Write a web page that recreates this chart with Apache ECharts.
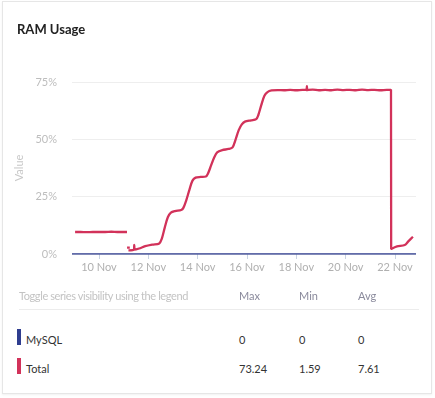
<!DOCTYPE html>
<html>
<head>
<meta charset="utf-8">
<script src="https://cdn.jsdelivr.net/npm/echarts@6/dist/echarts.min.js"></script>
<style>
  body { margin: 0; background: #fff; font-family: Lato, sans-serif; }
  #card { position: absolute; left: 2px; top: 1px; width: 428px; height: 391px; border: 1px solid #e6e6e6; box-shadow: 0 1px 2px rgba(0,0,0,0.06); background: #fff; }
  #main { position: absolute; left: 0; top: 0; width: 435px; height: 290px; }
  .t { position: absolute; font-size: 11px; line-height: 14px; white-space: nowrap; }
  .bar { position: absolute; width: 4px; height: 16px; }
</style>
</head>
<body>
<div id="card"></div>
<div id="main"></div>
<div id="table"></div>
<script>
// series values: [time, value]
var totalData = [
  ['2023-11-09 00:45', 9.6], ['2023-11-09 06:00', 9.6], ['2023-11-09 12:00', 9.5], ['2023-11-09 18:00', 9.6],
  ['2023-11-10 00:00', 9.6], ['2023-11-10 06:00', 9.6], ['2023-11-10 12:00', 9.7], ['2023-11-10 18:00', 9.6],
  ['2023-11-11 00:00', 9.6], ['2023-11-11 03:15', 9.6], ['2023-11-11 03:20', null],
  ['2023-11-11 03:20', 2.8], ['2023-11-11 06:00', 2.8], ['2023-11-11 06:10', null],
  ['2023-11-11 04:40', 1.59], ['2023-11-11 10:00', 1.9], ['2023-11-11 10:20', 4.0], ['2023-11-11 10:40', 1.9],
  ['2023-11-11 15:00', 2.4], ['2023-11-11 21:00', 3.4], ['2023-11-12 04:00', 4.1], ['2023-11-12 10:40', 4.6],
  ['2023-11-12 13:00', 6.5], ['2023-11-12 16:00', 11.5], ['2023-11-12 19:00', 16], ['2023-11-12 22:00', 18],
  ['2023-11-13 02:00', 18.7], ['2023-11-13 08:00', 19.2], ['2023-11-13 10:00', 20],
  ['2023-11-13 13:00', 23.5], ['2023-11-13 16:00', 28], ['2023-11-13 19:00', 32], ['2023-11-13 22:00', 33.3],
  ['2023-11-14 03:00', 33.6], ['2023-11-14 08:00', 33.8], ['2023-11-14 10:00', 35],
  ['2023-11-14 13:00', 38.5], ['2023-11-14 16:00', 42], ['2023-11-14 19:00', 44.3], ['2023-11-15 00:00', 45.3],
  ['2023-11-15 06:00', 45.8], ['2023-11-15 10:00', 46.5],
  ['2023-11-15 13:00', 50], ['2023-11-15 16:00', 54], ['2023-11-15 19:00', 56.5], ['2023-11-15 22:00', 57.7],
  ['2023-11-16 04:00', 58.3], ['2023-11-16 09:00', 58.8], ['2023-11-16 11:00', 60.5],
  ['2023-11-16 14:00', 65], ['2023-11-16 17:00', 69], ['2023-11-16 20:00', 70.6], ['2023-11-17 00:00', 71.3],
  ['2023-11-17 06:00', 71.5], ['2023-11-17 12:00', 71.4], ['2023-11-17 18:00', 71.6], ['2023-11-18 00:00', 71.4],
  ['2023-11-18 06:00', 71.6], ['2023-11-18 10:00', 71.5], ['2023-11-18 10:20', 73.24], ['2023-11-18 10:40', 71.5],
  ['2023-11-18 16:00', 71.7], ['2023-11-18 22:00', 71.4], ['2023-11-19 04:00', 71.6], ['2023-11-19 10:00', 71.4],
  ['2023-11-19 16:00', 71.7], ['2023-11-19 22:00', 71.5], ['2023-11-20 04:00', 71.6], ['2023-11-20 10:00', 71.4],
  ['2023-11-20 16:00', 71.7], ['2023-11-20 22:00', 71.5], ['2023-11-21 04:00', 71.6], ['2023-11-21 10:00', 71.4],
  ['2023-11-21 16:00', 71.6], ['2023-11-21 20:10', 71.6],
  ['2023-11-21 20:20', 2.2], ['2023-11-22 02:00', 3.3], ['2023-11-22 09:30', 3.9], ['2023-11-22 13:00', 5.5],
  ['2023-11-22 17:30', 7.5]
]
var mysqlData = [
  ['2023-11-08 21:45', 0], ['2023-11-12 00:00', 0], ['2023-11-16 00:00', 0], ['2023-11-20 00:00', 0], ['2023-11-22 20:30', 0]
]
var xTicks = ['2023-11-10', '2023-11-12', '2023-11-14', '2023-11-16', '2023-11-18', '2023-11-20', '2023-11-22']
var yTicks = [0, 25, 50, 75]

// legend table
var statNames = ['MySQL', 'Total']
var statColors = ['#2f3d8f', '#d2325a']
var statMax = ['0', '73.24']
var statMin = ['0', '1.59']
var statAvg = ['0', '7.61']
var statHeaders = ['Max', 'Min', 'Avg']

function ts(s) { return +echarts.time.parse(s) }
function toPoints(arr) {
  return arr.map(function (p) { return [ts(p[0]), p[1] === null ? '-' : p[1]] })
}
var xTickValues = xTicks.map(function (d) { return ts(d + ' 00:00') })

var myChart = echarts.init(document.getElementById('main'))

myChart.setOption({
  animation: false,
  textStyle: { fontFamily: 'Lato' },
  title: {
    text: 'RAM Usage',
    left: 12,
    top: 18,
    textStyle: { fontSize: 13, fontWeight: 'bold', color: '#222', fontFamily: 'Lato' }
  },
  grid: { left: 72, right: 19, top: 82, bottom: 36 },
  xAxis: {
    type: 'value',
    min: ts(mysqlData[0][0]),
    max: ts(mysqlData[mysqlData.length - 1][0]),
    axisLine: { show: false },
    axisTick: { show: true, length: 5, lineStyle: { color: '#c9d3e2' }, customValues: xTickValues },
    splitLine: { show: false },
    axisLabel: {
      color: '#b0b0b0', fontSize: 11, fontFamily: 'Lato', margin: 8,
      customValues: xTickValues,
      formatter: function (v) { return echarts.time.format(v, '{d} {MMM}', false) }
    }
  },
  yAxis: {
    type: 'value',
    min: yTicks[0],
    max: yTicks[yTicks.length - 1],
    interval: 25,
    name: 'Value',
    nameLocation: 'middle',
    nameGap: 41,
    nameTextStyle: { color: '#c8c8c8', fontSize: 11, fontFamily: 'Lato' },
    axisLine: { show: false },
    axisTick: { show: false },
    splitLine: { lineStyle: { color: '#eeeeee' } },
    axisLabel: { color: '#bdbdbd', fontSize: 11, fontFamily: 'Lato', margin: 15, formatter: '{value}%' }
  },
  series: [{
    name: 'MySQL',
    type: 'line',
    data: toPoints(mysqlData),
    showSymbol: false,
    lineStyle: { color: statColors[0], width: 1.5 },
    itemStyle: { color: statColors[0] }
  }, {
    name: 'Total',
    type: 'line',
    data: toPoints(totalData),
    showSymbol: false,
    connectNulls: false,
    smooth: 0.3,
    lineStyle: { color: statColors[1], width: 2.3 },
    itemStyle: { color: statColors[1] }
  }]
})

// legend table below the chart
var html = ''
html += '<div class="t" style="left:19px;top:289px;color:#c3c3c3;letter-spacing:-0.4px">Toggle series visibility using the legend</div>'
var cols = [239, 299, 358]
statHeaders.forEach(function (h, i) {
  html += '<div class="t" style="left:' + cols[i] + 'px;top:289px;color:#8a8a9c">' + h + '</div>'
})
html += '<div style="position:absolute;left:19px;top:309px;width:400px;height:1px;background:#ececec"></div>'
statNames.forEach(function (name, r) {
  var cy = 340 + r * 29
  html += '<div class="bar" style="left:17px;top:' + (cy - 11) + 'px;background:' + statColors[r] + '"></div>'
  html += '<div class="t" style="left:26px;top:' + (cy - 7) + 'px;color:#333">' + name + '</div>'
  var vals = [statMax[r], statMin[r], statAvg[r]]
  vals.forEach(function (v, i) {
    html += '<div class="t" style="left:' + cols[i] + 'px;top:' + (cy - 7) + 'px;color:#333">' + v + '</div>'
  })
})
document.getElementById('table').innerHTML = html
</script>
</body>
</html>
